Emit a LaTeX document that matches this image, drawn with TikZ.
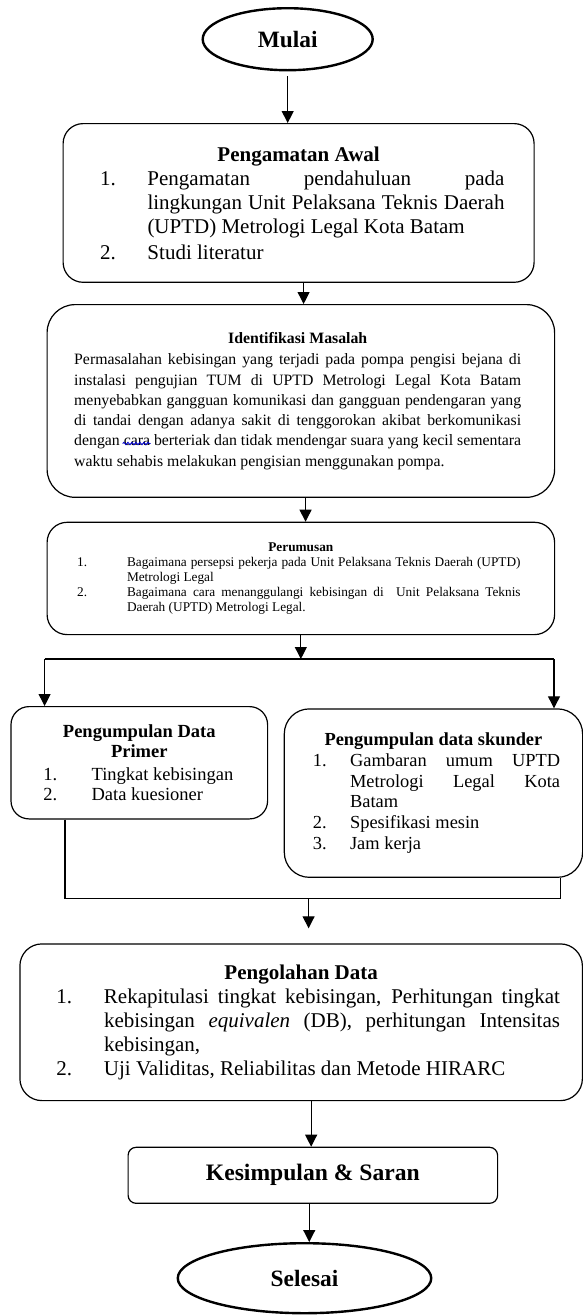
\documentclass[tikz,border=0pt]{standalone}
\usepackage{fontspec}
\setmainfont{Liberation Serif}
\usetikzlibrary{shapes.geometric,arrows.meta,decorations.pathmorphing}
\newcommand{\JItem}[5]{\hspace*{#1}\makebox[\dimexpr#2-#1\relax][l]{#3}\makebox[#4][s]{\spaceskip=0pt\xspaceskip=0pt #5}}
\newcommand{\LItem}[4]{\hspace*{#1}\makebox[\dimexpr#2-#1\relax][l]{#3}{\spaceskip=0pt\xspaceskip=0pt #4}}
\newcommand{\JCont}[3]{\hspace*{#1}\makebox[#2][s]{\spaceskip=0pt\xspaceskip=0pt #3}}
\newcommand{\LCont}[2]{\hspace*{#1}{\spaceskip=0pt\xspaceskip=0pt #2}}
\tikzset{
  box/.style={draw, line width=1.2pt, rectangle, anchor=north west, inner sep=0pt, align=left},
  term/.style={draw, ellipse, line width=2.4pt, inner sep=0pt, font=\fontsize{23.4}{26}\selectfont\bfseries},
  conn/.style={line width=1.1pt},
  arr/.style={conn, -{Triangle[width=12pt,length=12pt]}},
}
\begin{document}
\begin{tikzpicture}[x=1pt,y=-1pt]
\useasboundingbox (0,0) rectangle (583,1315);

\node[term, minimum width=170pt, minimum height=62pt] (mulai) at (287.7,39.2) {Mulai};

\node[box, rounded corners=20pt, minimum width=471pt, minimum height=158.7pt, text width=471pt,
      font=\fontsize{21}{24}\selectfont] (box1) at (62.5,123) {%
\makebox[471pt]{\bfseries\spaceskip=0pt Pengamatan Awal}\\
\JItem{37.1pt}{84.4pt}{1.}{357pt}{Pengamatan pendahuluan pada}\\
\JCont{84.4pt}{357pt}{lingkungan Unit Pelaksana Teknis Daerah}\\
\LCont{84.4pt}{(UPTD) Metrologi Legal Kota Batam}\\[2pt]
\LItem{37.1pt}{84.4pt}{2.}{Studi literatur}};

\node[box, rounded corners=28pt, minimum width=507.5pt, minimum height=192.7pt, text width=507.5pt,
      font=\fontsize{15.8}{20.3}\selectfont] (box2) at (46.5,304) {%
\hspace*{27.1pt}\makebox[447pt]{\bfseries\spaceskip=0pt Identifikasi Masalah}\\[1pt]
\JCont{27.1pt}{447pt}{Permasalahan kebisingan yang terjadi pada pompa pengisi bejana di}\\
\JCont{27.1pt}{447pt}{instalasi pengujian TUM di UPTD Metrologi Legal Kota Batam}\\
\JCont{27.1pt}{447pt}{menyebabkan gangguan komunikasi dan gangguan pendengaran yang}\\
\JCont{27.1pt}{447pt}{di tandai dengan adanya sakit di tenggorokan akibat berkomunikasi}\\
\JCont{27.1pt}{447pt}{dengan cara berteriak dan tidak mendengar suara yang kecil sementara}\\
\LCont{27.1pt}{waktu sehabis melakukan pengisian menggunakan pompa.}};

\node[box, rounded corners=20pt, minimum width=507.5pt, minimum height=112.3pt, text width=507.5pt,
      font=\fontsize{13.3}{15.1}\selectfont] (box3) at (46.5,521.7) {%
\makebox[507.5pt]{\bfseries Perumusan}\\
\JItem{30pt}{79.9pt}{1.}{393.6pt}{Bagaimana persepsi pekerja pada Unit Pelaksana Teknis Daerah (UPTD)}\\
\LCont{79.9pt}{Metrologi Legal}\\
\JItem{30pt}{79.9pt}{2.}{393.6pt}{Bagaimana cara menanggulangi kebisingan di~ Unit Pelaksana Teknis}\\
\LCont{79.9pt}{Daerah (UPTD) Metrologi Legal.}};

\node[box, rounded corners=18pt, minimum width=256.6pt, minimum height=112.3pt, text width=256.6pt,
      font=\fontsize{18.5}{20.8}\selectfont] (box4) at (10.4,706) {%
\makebox[256.6pt]{\bfseries\spaceskip=0pt Pengumpulan Data}\\
\makebox[256.6pt]{\bfseries Primer}\\[1.5pt]
\LItem{32.4pt}{80.6pt}{1.}{Tingkat kebisingan}\\
\LItem{32.4pt}{80.6pt}{2.}{Data kuesioner}};

\node[box, rounded corners=25pt, minimum width=298.3pt, minimum height=168.4pt, text width=298.3pt,
      font=\fontsize{18.4}{20.7}\selectfont] (box5) at (283.7,708.3) {%
\makebox[298.3pt]{\bfseries\spaceskip=0pt Pengumpulan data skunder}\\
\JItem{28.6pt}{65.8pt}{1.}{210pt}{Gambaran umum UPTD}\\
\JCont{65.8pt}{210pt}{Metrologi Legal Kota}\\
\LCont{65.8pt}{Batam}\\
\LItem{28.6pt}{65.8pt}{2.}{Spesifikasi mesin}\\
\LItem{28.6pt}{65.8pt}{3.}{Jam kerja}};

\node[box, rounded corners=22pt, minimum width=562.5pt, minimum height=156.7pt, text width=562.5pt,
      font=\fontsize{21}{24}\selectfont] (box6) at (19.3,943.3) {%
\makebox[562.5pt]{\bfseries\spaceskip=0pt Pengolahan Data}\\
\JItem{36.5pt}{84.1pt}{1.}{456pt}{Rekapitulasi tingkat kebisingan, Perhitungan tingkat}\\
\JCont{84.1pt}{456pt}{kebisingan \textit{equivalen} (DB), perhitungan Intensitas}\\
\LCont{84.1pt}{kebisingan,}\\
\LItem{36.5pt}{84.1pt}{2.}{Uji Validitas, Reliabilitas dan Metode HIRARC}};

\node[draw, line width=1.2pt, rectangle, anchor=north west, inner sep=0pt, rounded corners=8pt,
      minimum width=369.5pt, minimum height=56pt,
      font=\fontsize{23.6}{26}\selectfont\bfseries] (box7) at (127.5,1146.7) {Kesimpulan \& Saran};

\node[term, minimum width=253.5pt, minimum height=70pt] (selesai) at (304.5,1278.2) {Selesai};

% spell-check squiggle under "cara"
\draw[blue!80!black, line width=0.9pt, decorate, decoration={snake, amplitude=1.2pt, segment length=4pt}]
  (122.7,443.5) -- (150.6,443.5);

% connectors
\draw[arr, shorten <=5pt] (mulai.south) -- (mulai.south |- box1.north);
\path ([xshift=5pt]box1.south) coordinate (a2s);
\draw[arr] (a2s) -- (a2s |- box2.north);
\path ([xshift=4.7pt]box2.south) coordinate (a3s);
\draw[arr] (a3s) -- (a3s |- box3.north);

\coordinate (sL) at (44.6,659);
\coordinate (sR) at (554,659);
\draw[arr] (box3.south) -- (box3.south |- sL);
\draw[conn] (sL) -- (sR);
\draw[arr] (sL) -- (sL |- box4.north);
\draw[arr] (sR) -- (sR |- box5.north);

\coordinate (mL) at (65,898.3);
\coordinate (mR) at (560.6,898.3);
\coordinate (mC) at (308.6,898.3);
\draw[conn] (box4.south -| mL) -- (mL) -- (mR) -- (mR |- box5.south);
\draw[arr, shorten >=15pt] (mC) -- (mC |- box6.north);

\path ([xshift=10pt]box6.south) coordinate (a5s);
\draw[arr] (a5s) -- (a5s |- box7.north);
\path ([xshift=-3.6pt]box7.south) coordinate (a6s);
\draw[arr] (a6s) -- (a6s |- selesai.north);
\end{tikzpicture}
\end{document}
